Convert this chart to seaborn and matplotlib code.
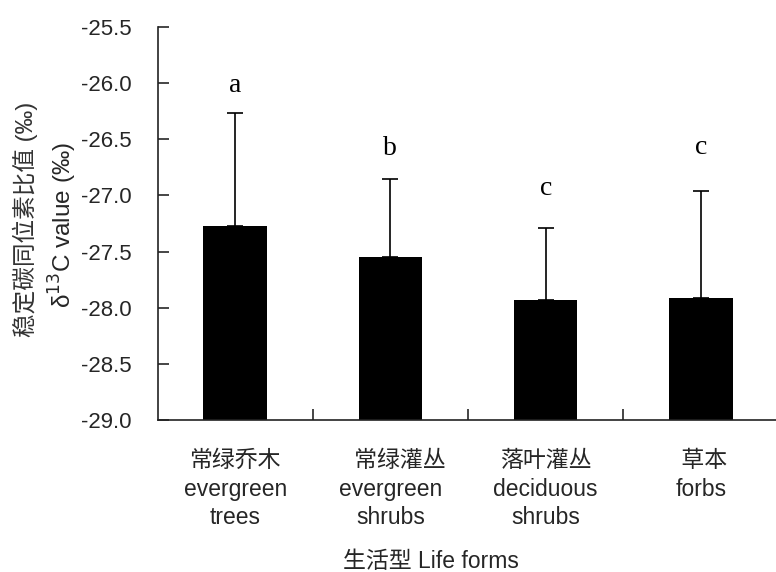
import matplotlib
matplotlib.use("Agg")
import matplotlib.pyplot as plt
import seaborn as sns
import pandas as pd

# Life-form categories and their mean δ13C values (‰) with SD
life_forms_cn = ["常绿乔木", "   常绿灌丛", "落叶灌丛", " 草本"]
life_forms_en = ["evergreen\ntrees", "evergreen\nshrubs", "deciduous\nshrubs", "forbs"]
delta13c_mean = [-27.27, -27.55, -27.93, -27.91]
delta13c_sd = [1.00, 0.70, 0.64, 0.95]
sig_letters = ["a", "b", "c", "c"]
letter_y = [-26.08, -26.64, -27.00, -26.63]
y_ticks = [-29.0, -28.5, -28.0, -27.5, -27.0, -26.5, -26.0, -25.5]

baseline = y_ticks[0]

sns.set_style("ticks")
plt.rcParams["font.family"] = ["Liberation Sans", "Noto Sans CJK SC", "DejaVu Sans"]
plt.rcParams["axes.unicode_minus"] = False

labels = [f"{cn}\n{en}" for cn, en in zip(life_forms_cn, life_forms_en)]
df = pd.DataFrame({
    "form": labels,
    "height": [m - baseline for m in delta13c_mean],
})

fig = plt.figure(figsize=(7.76, 5.72), dpi=100)
ax = fig.add_axes([0.2036, 0.2657, 0.7964, 0.6871])

# bars rise from the bottom of the value axis up to each mean
sns.barplot(data=df, x="form", y="height", bottom=baseline, color="black",
            width=0.41, errorbar=None, linewidth=0, saturation=1, ax=ax)

# upper standard-deviation whiskers
xpos = list(range(len(delta13c_mean)))
ax.errorbar(xpos, delta13c_mean, yerr=[[0] * len(delta13c_sd), delta13c_sd],
            fmt="none", ecolor="black", elinewidth=1.2, capsize=5.5,
            capthick=1.2, zorder=3)

# significance letters
for x, y, s in zip(xpos, letter_y, sig_letters):
    ax.text(x, y, s, ha="center", va="baseline", fontsize=20,
            family="Liberation Serif", color="black")

ax.set_ylim(baseline, y_ticks[-1])
ax.set_xlim(-0.497, 3.484)
ax.set_yticks(y_ticks)
ax.set_yticklabels([f"{t:.1f}" for t in y_ticks], fontsize=16)
ax.set_xticks(xpos)
ax.set_xticks([0.5, 1.5, 2.5], minor=True)
ax.set_xticklabels(labels, fontsize=16.5, linespacing=1.3)
ax.tick_params(axis="x", which="major", length=0, pad=21)
ax.tick_params(axis="x", which="minor", direction="in", length=8, width=1.2)
ax.tick_params(axis="y", direction="in", length=8, width=1.2, pad=19)

for side in ("top", "right"):
    ax.spines[side].set_visible(False)
for side in ("left", "bottom"):
    ax.spines[side].set_linewidth(1.2)
    ax.spines[side].set_color("#222222")

ax.set_xlabel("")
ax.set_ylabel("")

# axis titles
fig.text(431 / 776, 1 - 561 / 572, "生活型 Life forms", ha="center", va="center",
         fontsize=16.5)
fig.text(25 / 776, 1 - 219 / 572, "稳定碳同位素比值 (‰)", rotation=90,
         ha="center", va="center", fontsize=17, color="#333333")
fig.text(63 / 776, 1 - 225 / 572, "δ$^{13}$C value (‰)", rotation=90,
         ha="center", va="center", fontsize=17.5)

fig.savefig("out.png", dpi=100)
